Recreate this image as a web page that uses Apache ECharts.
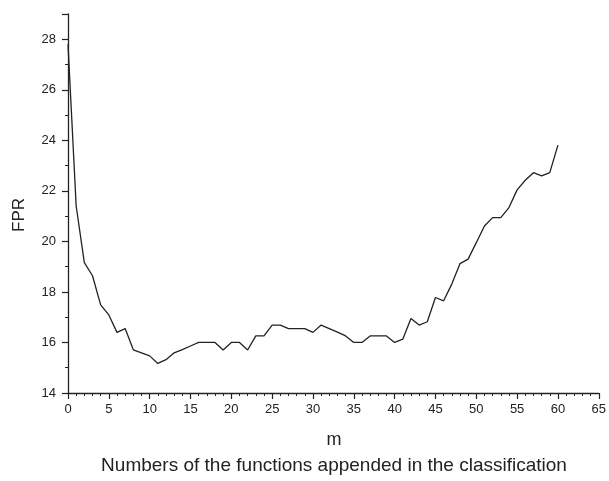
<!DOCTYPE html>
<html>
<head>
<meta charset="utf-8">
<script src="https://cdn.jsdelivr.net/npm/echarts@6/dist/echarts.min.js"></script>
<style>
html,body{margin:0;padding:0;background:#fff;}
#chart{width:609px;height:481px;}
</style>
</head>
<body>
<div id="chart"></div>
<script>
const mValues = [0,1,2,3,4,5,6,7,8,9,10,11,12,13,14,15,16,17,18,19,20,21,22,23,24,25,26,27,28,29,30,31,32,33,34,35,36,37,38,39,40,41,42,43,44,45,46,47,48,49,50,51,52,53,54,55,56,57,58,59,60];
const fprValues = [27.8,21.4,19.16,18.64,17.49,17.09,16.40,16.55,15.71,15.59,15.47,15.17,15.32,15.59,15.72,15.86,16.0,16.0,16.0,15.7,16.0,16.0,15.7,16.26,16.26,16.69,16.69,16.55,16.55,16.55,16.4,16.69,16.55,16.41,16.26,16.0,16.0,16.26,16.26,16.26,16.0,16.13,16.95,16.69,16.82,17.78,17.65,18.31,19.12,19.30,19.95,20.61,20.94,20.94,21.34,22.04,22.42,22.72,22.59,22.72,23.81];
const yAxisName = 'FPR';
const xAxisName = 'm';
const xTitle = 'Numbers of the functions appended in the classification';

const FONT = 'Liberation Sans, Arial, sans-serif';
const TXT = '#222';
const chart = echarts.init(document.getElementById('chart'), null, {renderer: 'canvas'});
chart.setOption({
  animation: false,
  backgroundColor: '#fff',
  grid: {left: 68, right: 9, top: 14, bottom: 88},
  xAxis: {
    type: 'value', min: 0, max: 65, interval: 5,
    axisLine: {onZero: false, lineStyle: {color: TXT, width: 1.3}},
    axisTick: {show: true, inside: false, length: 6, lineStyle: {color: TXT, width: 1.2}},
    minorTick: {show: true, splitNumber: 5, length: 3, lineStyle: {color: TXT, width: 1}},
    axisLabel: {color: TXT, fontFamily: FONT, fontSize: 13, margin: 10},
    splitLine: {show: false}
  },
  yAxis: {
    type: 'value', min: 14, max: 29, interval: 2,
    axisLine: {show: true, onZero: false, lineStyle: {color: TXT, width: 1.3}},
    axisTick: {show: true, inside: false, length: 6, lineStyle: {color: TXT, width: 1.2}},
    minorTick: {show: true, splitNumber: 2, length: 3, lineStyle: {color: TXT, width: 1}},
    axisLabel: {color: TXT, fontFamily: FONT, fontSize: 13, margin: 12,
      formatter: v => (v === 29 ? '' : String(v))},
    splitLine: {show: false}
  },
  graphic: [
    {type: 'text', x: 19, y: 215, rotation: Math.PI / 2,
      style: {text: yAxisName, fill: TXT, font: '17px ' + FONT, textAlign: 'center', textVerticalAlign: 'middle'}},
    {type: 'text', x: 334, y: 440,
      style: {text: xAxisName, fill: TXT, font: '18px ' + FONT, textAlign: 'center', textVerticalAlign: 'middle'}},
    {type: 'text', x: 334, y: 466,
      style: {text: xTitle, fill: TXT, font: '19px ' + FONT, textAlign: 'center', textVerticalAlign: 'middle'}}
  ],
  series: [{
    type: 'line',
    data: mValues.map((m, i) => [m, fprValues[i]]),
    showSymbol: false,
    lineStyle: {color: '#222', width: 1.3},
    clip: false
  }]
});
</script>
</body>
</html>
